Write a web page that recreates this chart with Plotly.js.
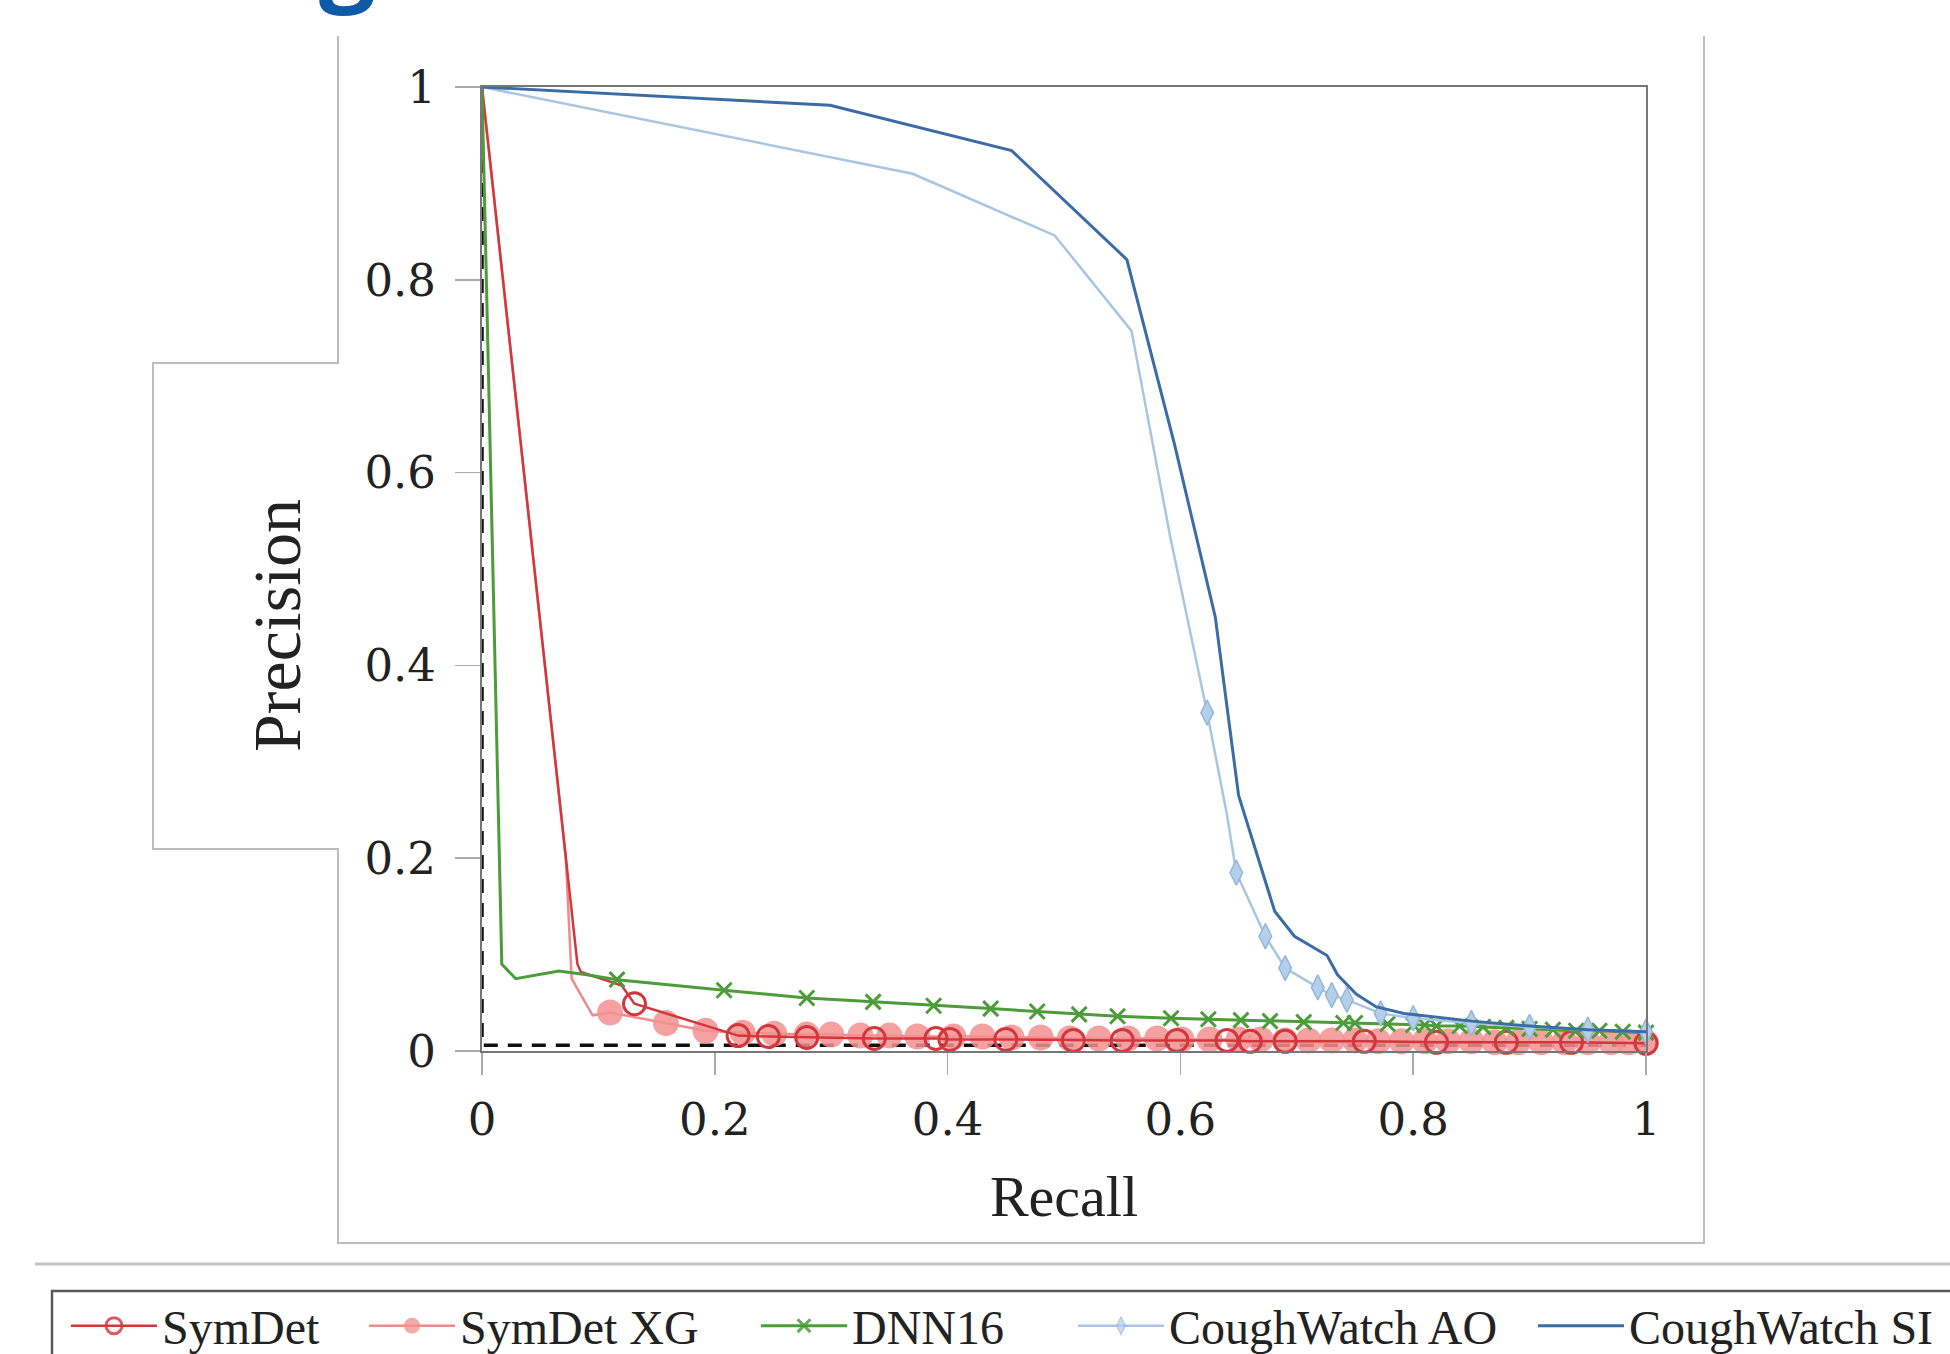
<!DOCTYPE html>
<html>
<head>
<meta charset="utf-8">
<script src="https://cdn.plot.ly/plotly-3.0.1.min.js"></script>
<style>
html,body{margin:0;padding:0;width:1950px;height:1354px;overflow:hidden;background:#fff;}
#wrap{width:1950px;height:1354px;overflow:hidden;position:relative;}
#chart{width:2150px;height:1400px;}
</style>
</head>
<body>
<div id="wrap"><div id="chart"></div></div>
<script>
// ---- data ----
const seriesNames = ["SymDet", "SymDet XG", "DNN16", "CoughWatch AO", "CoughWatch SI"];

const symdetX = [0, 0.082, 0.085, 0.12, 0.131, 0.22, 0.246, 0.279, 0.337, 0.39, 0.402, 0.45, 0.508, 0.55, 0.597, 0.64, 0.66, 0.69, 0.758, 0.82, 0.88, 0.936, 1.0];
const symdetY = [1, 0.09, 0.082, 0.068, 0.049, 0.016, 0.015, 0.014, 0.013, 0.013, 0.012, 0.012, 0.011, 0.011, 0.011, 0.011, 0.010, 0.010, 0.010, 0.009, 0.009, 0.009, 0.008];
const symdetMarked = [0, 0, 0, 0, 1, 1, 1, 1, 1, 1, 1, 1, 1, 1, 1, 1, 1, 1, 1, 1, 1, 1, 1];

const xgX = [0, 0.072, 0.077, 0.095, 0.11, 0.158, 0.192, 0.224, 0.251, 0.279, 0.30, 0.325, 0.35, 0.374, 0.405, 0.43, 0.455, 0.48, 0.505, 0.53, 0.555, 0.58, 0.601, 0.625, 0.65, 0.669, 0.69, 0.71, 0.73, 0.75, 0.77, 0.79, 0.81, 0.83, 0.85, 0.87, 0.89, 0.91, 0.93, 0.95, 0.97, 0.985, 1.0];
const xgY = [1, 0.2, 0.075, 0.037, 0.040, 0.029, 0.021, 0.019, 0.018, 0.017, 0.017, 0.016, 0.016, 0.015, 0.015, 0.015, 0.014, 0.014, 0.013, 0.013, 0.013, 0.013, 0.012, 0.012, 0.012, 0.012, 0.011, 0.011, 0.011, 0.011, 0.010, 0.010, 0.010, 0.010, 0.010, 0.009, 0.009, 0.009, 0.009, 0.009, 0.009, 0.009, 0.009];
const xgMarked = [0, 0, 0, 0, 1, 1, 1, 1, 1, 1, 1, 1, 1, 1, 1, 1, 1, 1, 1, 1, 1, 1, 1, 1, 1, 1, 1, 1, 1, 1, 1, 1, 1, 1, 1, 1, 1, 1, 1, 1, 1, 1, 1];

const dnnX = [0, 0.017, 0.029, 0.066, 0.09, 0.116, 0.208, 0.279, 0.336, 0.388, 0.437, 0.477, 0.513, 0.546, 0.592, 0.624, 0.652, 0.677, 0.706, 0.74, 0.75, 0.778, 0.80, 0.81, 0.82, 0.84, 0.86, 0.88, 0.90, 0.92, 0.94, 0.96, 0.98, 1.0];
const dnnY = [1, 0.09, 0.075, 0.083, 0.079, 0.074, 0.063, 0.055, 0.051, 0.047, 0.044, 0.041, 0.038, 0.036, 0.034, 0.033, 0.032, 0.031, 0.030, 0.029, 0.029, 0.028, 0.027, 0.027, 0.026, 0.026, 0.025, 0.024, 0.023, 0.022, 0.021, 0.021, 0.020, 0.019];
const dnnMarked = [0, 0, 0, 0, 0, 1, 1, 1, 1, 1, 1, 1, 1, 1, 1, 1, 1, 1, 1, 1, 1, 1, 1, 1, 1, 1, 1, 1, 1, 1, 1, 1, 1, 1];

const aoX = [0, 0.37, 0.492, 0.558, 0.591, 0.623, 0.640, 0.648, 0.673, 0.690, 0.718, 0.730, 0.743, 0.772, 0.80, 0.85, 0.90, 0.95, 1.0];
const aoY = [1, 0.91, 0.846, 0.747, 0.535, 0.351, 0.245, 0.185, 0.119, 0.086, 0.066, 0.058, 0.053, 0.039, 0.034, 0.029, 0.025, 0.022, 0.020];
const aoMarked = [0, 0, 0, 0, 0, 1, 0, 1, 1, 1, 1, 1, 1, 1, 1, 1, 1, 1, 1];

const siX = [0, 0.299, 0.455, 0.554, 0.595, 0.630, 0.650, 0.669, 0.681, 0.698, 0.726, 0.735, 0.751, 0.768, 0.792, 0.85, 0.90, 0.95, 1.0];
const siY = [1, 0.981, 0.934, 0.821, 0.629, 0.450, 0.265, 0.192, 0.145, 0.119, 0.099, 0.079, 0.059, 0.046, 0.039, 0.031, 0.026, 0.022, 0.020];

const baseX = [0, 0, 1];
const baseY = [1, 0.006, 0.006];

const tickVals = [0, 0.2, 0.4, 0.6, 0.8, 1];
const tickText = ["0", "0.2", "0.4", "0.6", "0.8", "1"];
const xTitle = "Recall";
const yTitle = "Precision";

// ---- geometry helpers (pixels -> paper) ----
const W = 2150, H = 1400;
const PL = 482, PR = 1646, PT = 87, PB = 1051;
const px = x => (x - PL) / (PR - PL);
const py = y => (PB - y) / (PB - PT);

const serif = "Liberation Serif, Times New Roman, serif";
const numFont = "DejaVu Serif, serif";
const sizes = (m, s) => m.map(v => v ? s : 0);
const opac = (m, o) => m.map(v => v ? o : 0);

const traces = [
  {x: baseX, y: baseY, name: "baseline", showlegend: false, mode: "lines", cliponaxis: false,
   line: {color: "#111", width: 3.5, dash: "14px,10px"}},
  {x: xgX, y: xgY, name: seriesNames[1], legend: "legend2", mode: "lines+markers", cliponaxis: false,
   line: {color: "#f08a8a", width: 2.5},
   marker: {symbol: "circle", color: "#f39090", size: sizes(xgMarked, 26), opacity: opac(xgMarked, 0.85), line: {width: 0}}},
  {x: symdetX, y: symdetY, name: seriesNames[0], legend: "legend", mode: "lines+markers", cliponaxis: false,
   line: {color: "#d3373c", width: 2.5},
   marker: {symbol: "circle-open", color: "#d3373c", size: sizes(symdetMarked, 22), opacity: opac(symdetMarked, 1), line: {width: 3, color: "#d3373c"}}},
  {x: dnnX, y: dnnY, name: seriesNames[2], legend: "legend3", mode: "lines+markers", cliponaxis: false,
   line: {color: "#4d9c3a", width: 3},
   marker: {symbol: "x-thin-open", color: "#4d9c3a", size: sizes(dnnMarked, 15), opacity: opac(dnnMarked, 1), line: {width: 3, color: "#4d9c3a"}}},
  {x: aoX, y: aoY, name: seriesNames[3], legend: "legend4", mode: "lines+markers", cliponaxis: false,
   line: {color: "#a8c6e4", width: 2.5},
   marker: {symbol: "diamond-tall", color: "#b4cfe9", size: sizes(aoMarked, 18), opacity: opac(aoMarked, 1), line: {width: 1.5, color: "#94b6da"}}},
  {x: siX, y: siY, name: seriesNames[4], legend: "legend5", mode: "lines", cliponaxis: false,
   line: {color: "#3b6ca6", width: 3}}
];

const frameColor = "#bdbdbd";
const framePts = [[338, 36], [338, 363], [153, 363], [153, 849], [338, 849], [338, 1243], [1704, 1243], [1704, 36]];
const framePath = framePts.map((p, i) => (i ? "L" : "M") + px(p[0]).toFixed(5) + "," + py(p[1]).toFixed(5)).join(" ");

// one legend per entry so that the spacing of the reference can be kept
const legendTextStarts = [162, 460, 852, 1169, 1629];
const ITEMW = 86;
function legendAt(textStart) {
  return {
    orientation: "h", x: px(textStart - ITEMW - 10), y: py(1326), xanchor: "left", yanchor: "middle",
    borderwidth: 0, bgcolor: "rgba(0,0,0,0)",
    font: {family: serif, size: 48, color: "#222"}, itemwidth: ITEMW
  };
}

const layout = {
  width: W, height: H,
  margin: {l: PL, r: W - PR, t: PT, b: H - PB, pad: 0},
  paper_bgcolor: "#fff", plot_bgcolor: "#fff",
  font: {family: serif, color: "#222"},
  showlegend: true,
  legend: legendAt(legendTextStarts[0]),
  legend2: legendAt(legendTextStarts[1]),
  legend3: legendAt(legendTextStarts[2]),
  legend4: legendAt(legendTextStarts[3]),
  legend5: legendAt(legendTextStarts[4]),
  xaxis: {
    range: [0, 1], tickvals: tickVals, ticktext: tickText,
    showgrid: false, zeroline: false, showline: true, mirror: true, linecolor: "#777", linewidth: 2,
    ticks: "outside", ticklen: 22, tickwidth: 1.5, tickcolor: "#aaa", ticklabelstandoff: 6,
    tickfont: {family: numFont, size: 45, color: "#222"},
    title: {text: xTitle, font: {family: serif, size: 58, color: "#222"}, standoff: 30}
  },
  yaxis: {
    range: [0, 1], tickvals: tickVals, ticktext: tickText,
    showgrid: false, zeroline: false, showline: true, mirror: true, linecolor: "#777", linewidth: 2,
    ticks: "outside", ticklen: 25, tickwidth: 1.5, tickcolor: "#aaa", ticklabelstandoff: 10,
    tickfont: {family: numFont, size: 45, color: "#222"}
  },
  shapes: [
    {type: "path", xref: "paper", yref: "paper", path: framePath, line: {color: frameColor, width: 2}},
    {type: "line", xref: "paper", yref: "paper", x0: px(35), x1: px(2150), y0: py(1264), y1: py(1264), line: {color: "#c4c4c4", width: 3}},
    {type: "rect", xref: "paper", yref: "paper", x0: px(52), x1: px(2140), y0: py(1291), y1: py(1395), line: {color: "#5a5a5a", width: 2.5}}
  ],
  annotations: [
    {text: yTitle, xref: "paper", yref: "paper", x: px(277), y: py(626), xanchor: "center", yanchor: "middle",
     textangle: -90, showarrow: false, font: {family: serif, size: 68, color: "#222"}},
    {text: "g", xref: "paper", yref: "paper", x: px(347), y: py(23), xanchor: "center", yanchor: "bottom",
     showarrow: false, font: {family: "Open Sans, sans-serif", size: 100, color: "#0f5aa6", weight: 700}}
  ]
};

Plotly.newPlot("chart", traces, layout, {displayModeBar: false, staticPlot: true});
</script>
</body>
</html>
